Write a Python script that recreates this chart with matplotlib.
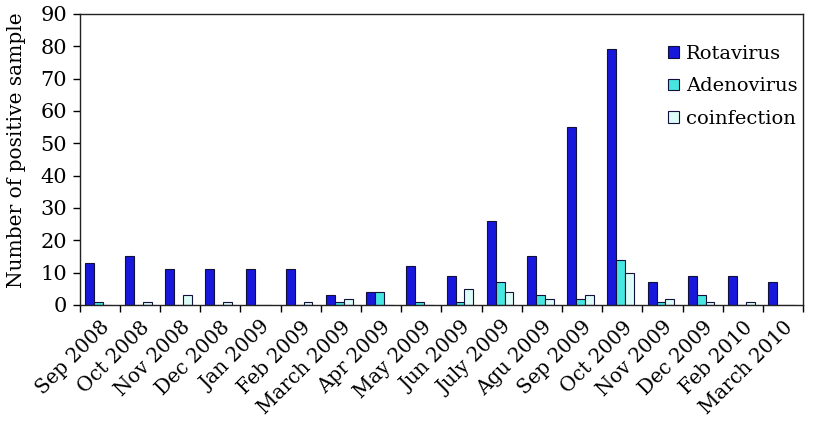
import matplotlib
matplotlib.use("Agg")
import matplotlib.pyplot as plt
import matplotlib.transforms as mtransforms
import numpy as np

categories = ["Sep 2008", "Oct 2008", "Nov 2008", "Dec 2008", "Jan 2009", "Feb 2009",
              "March 2009", "Apr 2009", "May 2009", "Jun 2009", "July 2009", "Agu 2009",
              "Sep 2009", "Oct 2009", "Nov 2009", "Dec 2009", "Feb 2010", "March 2010"]
rotavirus = [13, 15, 11, 11, 11, 11, 3, 4, 12, 9, 26, 15, 55, 79, 7, 9, 9, 7]
adenovirus = [1, 0, 0, 0, 0, 0, 1, 4, 1, 1, 7, 3, 2, 14, 1, 3, 0, 0]
coinfection = [0, 1, 3, 1, 0, 1, 2, 0, 0, 5, 4, 2, 3, 10, 2, 1, 1, 0]
series_names = ["Rotavirus", "Adenovirus", "coinfection"]
colors = ["#1818dc", "#48e6e0", "#dcfcf8"]

plt.rcParams['font.family'] = ['DejaVu Serif']

fig = plt.figure(figsize=(8.13, 4.32), dpi=100)
ax = fig.add_axes([0.098, 0.294, 0.89, 0.674])

x = np.arange(len(categories))
w = 0.22
for i, (vals, name, c) in enumerate(zip([rotavirus, adenovirus, coinfection], series_names, colors)):
    ax.bar(x + (i - 1) * w - 0.04, vals, width=w, color=c, edgecolor="#10103a",
           linewidth=0.8, label=name)

ax.set_xlim(-0.5, len(categories) - 0.5)
ax.set_ylim(0, 90)
ax.set_yticks(range(0, 91, 10))
ax.set_xticks(x)
ax.set_xticklabels(categories, rotation=45, ha='right', rotation_mode='anchor', fontsize=14.3)
offset = mtransforms.ScaledTranslation(-10 / 100, 0, fig.dpi_scale_trans)
for lbl in ax.get_xticklabels():
    lbl.set_transform(lbl.get_transform() + offset)
ax.set_xticks(np.arange(-0.5, len(categories), 1), minor=True)
ax.tick_params(axis='x', which='major', length=0, pad=9)
ax.tick_params(axis='x', which='minor', length=5, direction='out', width=1)
ax.tick_params(axis='y', labelsize=15, length=5, width=1, pad=4)
ax.set_ylabel("Number of positive sample", fontsize=14.5)
ax.yaxis.set_label_coords(-0.074, 0.533)
for s in ax.spines.values():
    s.set_linewidth(1)
    s.set_color("#222222")

leg = ax.legend(loc='upper right', frameon=False, fontsize=14, handlelength=0.55,
                handleheight=0.55, handletextpad=0.4, bbox_to_anchor=(1.017, 0.954), labelspacing=0.75)

fig.savefig("out.png", dpi=100)
